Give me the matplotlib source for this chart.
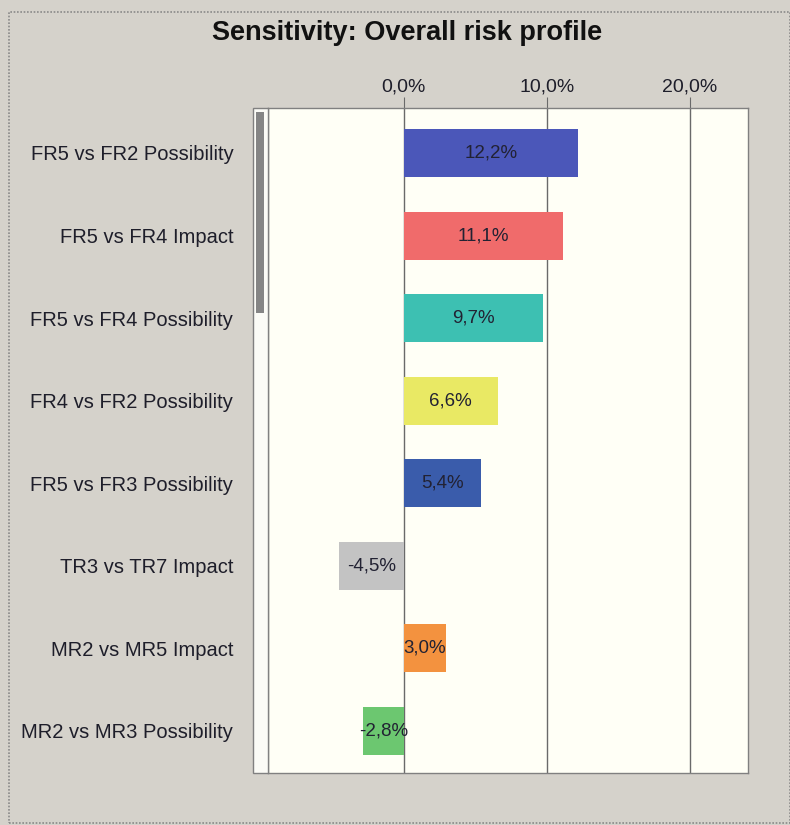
import matplotlib
matplotlib.use("Agg")
import matplotlib.pyplot as plt
from matplotlib.patches import Rectangle

categories = ["FR5 vs FR2 Possibility", "FR5 vs FR4 Impact", "FR5 vs FR4 Possibility",
              "FR4 vs FR2 Possibility", "FR5 vs FR3 Possibility", "TR3 vs TR7 Impact",
              "MR2 vs MR5 Impact", "MR2 vs MR3 Possibility"]
values = [12.2, 11.1, 9.7, 6.6, 5.4, -4.5, 3.0, -2.8]
colors = ["#4b57b9", "#f06b6b", "#3dc0b2", "#e9e964", "#3a5cab", "#c3c3c3", "#f3923f", "#6cc770"]
xticks = [0, 10, 20]
xticklabels = ["0,0%", "10,0%", "20,0%"]
title = "Sensitivity: Overall risk profile"

W, H = 790, 825
bg = "#d5d2cb"
fig = plt.figure(figsize=(W/100, H/100), dpi=100, facecolor=bg)
plt.rcParams['font.family'] = ['Liberation Sans', 'DejaVu Sans']

def fx(x): return x / W
def fy(y): return 1 - y / H

# outer dotted border
fig.patches.append(Rectangle((fx(9), fy(823)), fx(781), (823-12)/H, transform=fig.transFigure,
                             fill=False, edgecolor="#8a8a8a", lw=1.2, ls=(0, (1, 1))))

# scrollbar strip
fig.patches.append(Rectangle((fx(253), fy(773)), fx(15), (773-108)/H, transform=fig.transFigure,
                             facecolor="#fbfbf6", edgecolor="#808080", lw=1.0))
fig.patches.append(Rectangle((fx(256), fy(313)), fx(8), (313-112)/H, transform=fig.transFigure,
                             facecolor="#858585", edgecolor="none"))

ax = fig.add_axes([fx(268), fy(773), fx(748-268), (773-108)/H])
ax.set_facecolor("#fffff6")

zero_px, px_per = 403.5, 14.33
ax.set_xlim((268-zero_px)/px_per, (748-zero_px)/px_per)
sp = (731-153)/7
ax.set_ylim(7 + (773-731)/sp, -(153-108)/sp)

for x in xticks:
    ax.axvline(x, color="#6a6a6a", lw=1.0, zorder=1)

ypos = list(range(len(categories)))
ax.barh(ypos, values, height=0.58, color=colors, zorder=2)
for y, v in zip(ypos, values):
    ax.text(v/2, y, f"{v:.1f}%".replace(".", ","), ha="center", va="center",
            fontsize=13.5, color="#222233", zorder=3)

ax.set_yticks(ypos)
ax.set_yticklabels(categories, fontsize=14.5, color="#1e1e2a")
ax.tick_params(axis="y", length=0, pad=25)
ax.xaxis.tick_top()
ax.set_xticks(xticks)
ax.set_xticklabels(xticklabels, fontsize=14, color="#1e1e2a")
ax.tick_params(axis="x", length=8, color="#6a6a6a", pad=1)
for s in ax.spines.values():
    s.set_color("#808080")
    s.set_linewidth(1.0)

fig.text(fx(407), fy(33), title, ha="center", va="center", fontsize=19.5,
         fontweight="bold", color="#111111")

fig.savefig("out.png", dpi=100, facecolor=bg)
